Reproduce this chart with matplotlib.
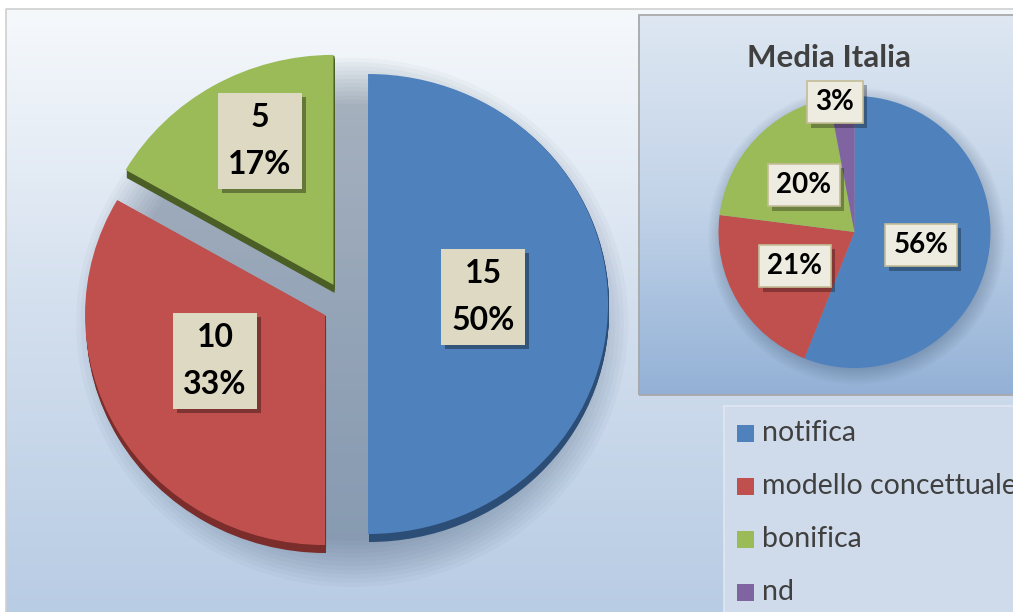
import matplotlib
matplotlib.use("Agg")
import matplotlib.pyplot as plt
import matplotlib.patheffects as pe
from matplotlib.patches import Rectangle, Ellipse
from matplotlib.colors import LinearSegmentedColormap
import numpy as np

W, H = 1013, 612

# data
main_values = [15, 10, 5]
italy_title = "Media Italia"
italy_values = [56, 21, 20, 3]
legend_labels = ["notifica", "modello concettuale", "bonifica", "nd"]

face = ["#4f81bd", "#c0504d", "#9bbb59", "#8064a2"]
side = ["#2c4d76", "#7a2d2b", "#4a5e26", "#4c3b63"]

plt.rcParams['font.family'] = ['Lato', 'DejaVu Sans']

fig = plt.figure(figsize=(W / 100, H / 100), dpi=100)


def iy(y):
    return H - y


# background axes in pixel units (y up)
bg = fig.add_axes([0, 0, 1, 1])
bg.axis('off')
grad = np.linspace(0, 1, 256)[:, None]
bg_cmap = LinearSegmentedColormap.from_list('bg', ['#f6f9fc', '#d3dfee', '#b8cce4'])
bg.imshow(grad, cmap=bg_cmap, extent=(6, W + 2, 0, iy(9)), aspect='auto',
          origin='upper', zorder=0)
bg.plot([5.5, 5.5, W + 2], [0, iy(8.5), iy(8.5)], color='#cfcfcf', lw=1.2, zorder=1)

# inset panel
in_cmap = LinearSegmentedColormap.from_list('inset', ['#dee7f2', '#c2d3e8', '#93b1d6'])
bg.imshow(grad, cmap=in_cmap, extent=(638, W + 5, iy(395), iy(15)), aspect='auto',
          origin='upper', zorder=1)
bg.add_patch(Rectangle((638.5, iy(395)), 420, 380, fc='none', ec='#a9a9a9', lw=1.3, zorder=2))

icx, icy, ir = 854.5, iy(232), 136
for r in np.linspace(ir * 1.09, ir * 0.95, 10):
    bg.add_patch(Ellipse((icx + 2, icy - 4), 2 * r, 2 * r, fc='#1f3550', alpha=0.03, lw=0, zorder=3))
bg.pie(italy_values, colors=face, startangle=90, counterclock=False, radius=ir,
       center=(icx, icy), wedgeprops=dict(linewidth=0, zorder=4))
bg.set_aspect('auto')

bg.text(829, iy(58), italy_title, ha='center', va='center', fontsize=22.5,
        fontweight='bold', color='#404040', zorder=6)

italy_pos = [(921, 245), (795, 266), (804, 185), (835, 102)]
for v, (x, y) in zip(italy_values, italy_pos):
    t = bg.text(x, iy(y), f"{v}%", ha='center', va='center', fontsize=20,
                fontweight='bold', color='black', zorder=7,
                bbox=dict(boxstyle='square,pad=0.3', fc='#eeece1', ec='#c4bd97', lw=1.2))
    t.get_bbox_patch().set_path_effects(
        [pe.withSimplePatchShadow(offset=(3, -3), shadow_rgbFace='black', alpha=0.3)])

# legend panel
bg.add_patch(Rectangle((724, -5), 320, iy(406) + 5, fc='#cfdbea', ec='#dfe7f2', lw=1.2, zorder=2))
leg_y = [433, 486, 539, 592]
for lab, c, y in zip(legend_labels, face, leg_y):
    bg.add_patch(Rectangle((737, iy(y) - 8.5), 17, 17, fc=c, lw=0, zorder=5))
    bg.text(762, iy(y), lab, ha='left', va='center', fontsize=20.5, color='#404040', zorder=5)

bg.set_xlim(0, W)
bg.set_ylim(0, H)

# main pie axes (slightly flattened like the 3D pie)
RX, RY = 240, 230
CX, CY = 345, 304
ax = fig.add_axes([0, 0, 1, 1])
ax.set_facecolor('none')
ax.axis('off')


def px(x, y):
    return (x - CX) / RX, (CY - y) / RY


# soft shadow
for r in np.linspace(1.15, 0.95, 12):
    ax.add_patch(Ellipse((0.03, -0.08), 2 * r, 2 * r, fc='#1f3550', alpha=0.03, lw=0, zorder=1))

expl = [0.096] * 3
depth = 8
for k in range(depth, 0, -1):
    ax.pie(main_values, colors=side[:3], startangle=90, counterclock=False,
           explode=expl, center=(0.004, -k / RY), wedgeprops=dict(linewidth=0, zorder=2))
ax.pie(main_values, colors=face[:3], startangle=90, counterclock=False,
       explode=expl, wedgeprops=dict(linewidth=0, zorder=3))
ax.set_aspect('auto')

total = sum(main_values)
main_pos = [(483, 297), (215, 361), (260, 141)]
for v, (x, y) in zip(main_values, main_pos):
    t = ax.text(*px(x, y), f"{v}\n{round(100 * v / total)}%", ha='center', va='center',
                fontsize=23, fontweight='bold', color='black', linespacing=1.75, zorder=5,
                bbox=dict(boxstyle='square,pad=0.32', fc='#ddd9c3', ec='none'))
    t.get_bbox_patch().set_path_effects(
        [pe.withSimplePatchShadow(offset=(3, -3), shadow_rgbFace='black', alpha=0.35)])

ax.set_xlim(-CX / RX, (W - CX) / RX)
ax.set_ylim((CY - H) / RY, CY / RY)

fig.savefig("out.png", dpi=100, facecolor='white')
